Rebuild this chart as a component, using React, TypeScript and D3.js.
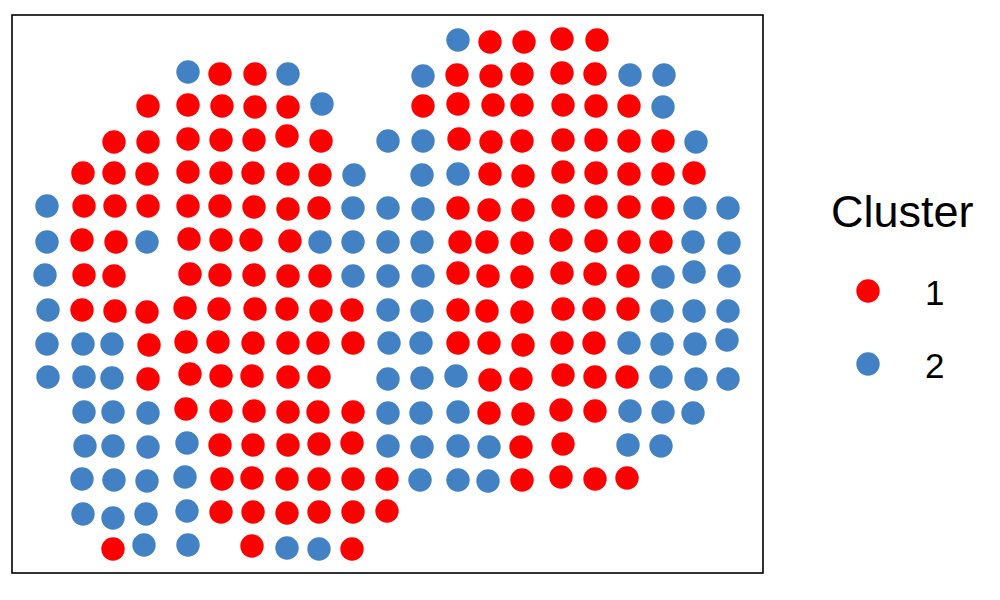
import { useRef, useEffect } from "react";
import * as d3 from "d3";

// spot positions (image col, image row) and cluster id
const spots: [number, number, number][] = [
  [458, 40, 2], [490, 42, 1], [524, 42, 1], [562, 39, 1], [597, 40, 1],
  [188, 72, 2], [220, 74, 1], [255, 74, 1], [288, 74, 2], [423, 76, 2], [457, 75, 1], [491, 76, 1], [522, 74, 1], [562, 73, 1], [595, 74, 1], [630, 75, 2], [664, 75, 2],
  [148, 106, 1], [188, 105, 1], [222, 106, 1], [255, 107, 1], [288, 107, 1], [322, 104, 2], [423, 106, 1], [458, 104, 1], [493, 105, 1], [522, 105, 1], [563, 105, 1], [596, 106, 1], [629, 106, 1], [663, 107, 2],
  [114, 142, 1], [148, 142, 1], [188, 139, 1], [221, 140, 1], [254, 140, 1], [287, 136, 1], [321, 141, 1], [388, 141, 2], [423, 141, 2], [459, 139, 1], [491, 142, 1], [522, 141, 1], [563, 140, 1], [596, 140, 1], [629, 141, 1], [663, 141, 1], [696, 142, 2],
  [83, 173, 1], [114, 173, 1], [147, 174, 1], [188, 172, 1], [221, 173, 1], [253, 173, 1], [288, 174, 1], [320, 175, 1], [354, 175, 2], [422, 175, 2], [458, 174, 2], [490, 174, 1], [523, 176, 1], [563, 172, 1], [596, 173, 1], [629, 174, 1], [663, 174, 1], [694, 173, 1],
  [47, 206, 2], [84, 206, 1], [115, 206, 1], [148, 206, 1], [188, 206, 1], [220, 206, 1], [254, 207, 1], [288, 209, 1], [319, 208, 1], [353, 208, 2], [388, 208, 2], [423, 209, 2], [458, 208, 1], [489, 210, 1], [523, 210, 1], [563, 206, 1], [596, 207, 1], [629, 207, 1], [663, 208, 1], [695, 208, 2], [728, 208, 2],
  [47, 242, 2], [82, 240, 1], [116, 242, 1], [147, 242, 2], [189, 239, 1], [221, 240, 1], [251, 240, 1], [290, 241, 1], [320, 242, 2], [353, 242, 2], [388, 242, 2], [422, 242, 2], [460, 242, 1], [487, 242, 1], [522, 243, 1], [561, 240, 1], [596, 241, 1], [629, 242, 1], [661, 242, 1], [693, 242, 2], [729, 243, 2],
  [45, 275, 2], [84, 275, 1], [114, 276, 1], [190, 274, 1], [220, 275, 1], [254, 275, 1], [288, 276, 1], [320, 276, 1], [353, 276, 2], [388, 276, 2], [423, 276, 2], [458, 273, 1], [488, 276, 1], [522, 277, 1], [562, 273, 1], [595, 274, 1], [628, 276, 1], [663, 277, 2], [694, 272, 2], [729, 276, 2],
  [48, 310, 2], [82, 310, 1], [115, 311, 1], [147, 312, 1], [185, 308, 1], [219, 309, 1], [255, 309, 1], [287, 309, 1], [321, 311, 1], [352, 310, 1], [388, 310, 2], [422, 311, 2], [458, 310, 1], [487, 311, 1], [522, 312, 1], [563, 309, 1], [594, 309, 1], [628, 309, 1], [662, 311, 2], [694, 311, 2], [728, 311, 2],
  [47, 344, 2], [83, 344, 2], [112, 344, 2], [149, 345, 1], [186, 342, 1], [218, 342, 1], [253, 343, 1], [288, 343, 1], [318, 343, 1], [353, 343, 1], [389, 343, 2], [421, 343, 2], [458, 343, 1], [489, 343, 1], [523, 345, 1], [562, 343, 1], [594, 343, 1], [629, 343, 2], [662, 344, 2], [695, 344, 2], [727, 340, 2],
  [48, 377, 2], [84, 377, 2], [112, 378, 2], [148, 379, 1], [190, 374, 1], [221, 376, 1], [252, 376, 1], [288, 377, 1], [319, 377, 1], [388, 379, 2], [422, 378, 2], [456, 376, 2], [490, 380, 1], [521, 379, 1], [563, 375, 1], [595, 377, 1], [627, 377, 1], [661, 377, 2], [696, 379, 2], [728, 379, 2],
  [84, 412, 2], [113, 412, 2], [148, 413, 2], [186, 409, 1], [221, 411, 1], [254, 411, 1], [288, 412, 1], [318, 412, 1], [353, 412, 1], [388, 413, 2], [421, 413, 2], [458, 412, 2], [489, 413, 1], [523, 414, 1], [561, 410, 1], [595, 411, 1], [630, 411, 2], [663, 412, 2], [693, 413, 2],
  [85, 446, 2], [113, 446, 2], [148, 447, 2], [187, 443, 2], [220, 445, 1], [253, 445, 1], [288, 445, 1], [319, 444, 1], [352, 443, 1], [388, 446, 2], [422, 447, 2], [458, 446, 2], [489, 447, 2], [521, 447, 1], [563, 444, 1], [628, 445, 2], [661, 446, 2],
  [82, 479, 2], [114, 480, 2], [147, 481, 2], [185, 477, 2], [222, 479, 1], [252, 478, 1], [287, 479, 1], [319, 479, 1], [353, 479, 1], [387, 479, 1], [420, 480, 2], [458, 480, 2], [488, 481, 2], [522, 480, 1], [561, 477, 1], [595, 479, 1], [627, 478, 1],
  [83, 514, 2], [113, 518, 2], [146, 514, 2], [187, 511, 2], [221, 512, 1], [253, 512, 1], [287, 513, 1], [319, 512, 1], [353, 512, 1], [387, 511, 1],
  [113, 549, 1], [144, 545, 2], [188, 545, 2], [252, 546, 1], [287, 548, 2], [319, 549, 2], [352, 549, 1],
];

const clusters = ["1", "2"];
const clusterColors = ["#FF0000", "#4281C3"];
const legendTitle = "Cluster";

export default function App() {
  const svgRef = useRef<SVGSVGElement>(null);

  useEffect(() => {
    document.body.style.margin = "0";
    if (!svgRef.current) return;
    const svg = d3.select(svgRef.current);
    svg.selectAll("*").remove();

    const panel = { left: 12, top: 15, right: 763, bottom: 573 };
    const font = "'Liberation Sans', Arial, Helvetica, sans-serif";

    // image coordinate extents of the panel (row axis runs downwards)
    const x = d3.scaleLinear().domain([12, 763]).range([panel.left, panel.right]);
    const y = d3.scaleLinear().domain([15, 573]).range([panel.top, panel.bottom]);
    const color = d3.scaleOrdinal<string, string>().domain(clusters).range(clusterColors);

    svg.append("rect").attr("width", 1000).attr("height", 600).attr("fill", "#fff");

    svg.append("g").selectAll("circle").data(spots).enter().append("circle")
      .attr("cx", d => x(d[0])).attr("cy", d => y(d[1]))
      .attr("r", 11.7)
      .attr("fill", d => color(String(d[2])));

    svg.append("rect")
      .attr("x", panel.left).attr("y", panel.top)
      .attr("width", panel.right - panel.left).attr("height", panel.bottom - panel.top)
      .attr("fill", "none").attr("stroke", "#000").attr("stroke-width", 1.6);

    // Legend
    const lg = svg.append("g").attr("font-family", font);
    lg.append("text").attr("x", 831).attr("y", 227).attr("font-size", 45).attr("fill", "#000").text(legendTitle);
    const items = lg.selectAll(".item").data(clusters).enter().append("g")
      .attr("transform", (_, i) => `translate(0,${291 + i * 73})`);
    items.append("circle").attr("cx", 868).attr("cy", 0).attr("r", 11.7).attr("fill", d => color(d));
    items.append("text").attr("x", 925).attr("y", 13.5)
      .attr("font-size", 35).attr("fill", "#000").text(d => d);
  }, []);

  return <svg ref={svgRef} width={1000} height={600} style={{ display: "block" }} />;
}
